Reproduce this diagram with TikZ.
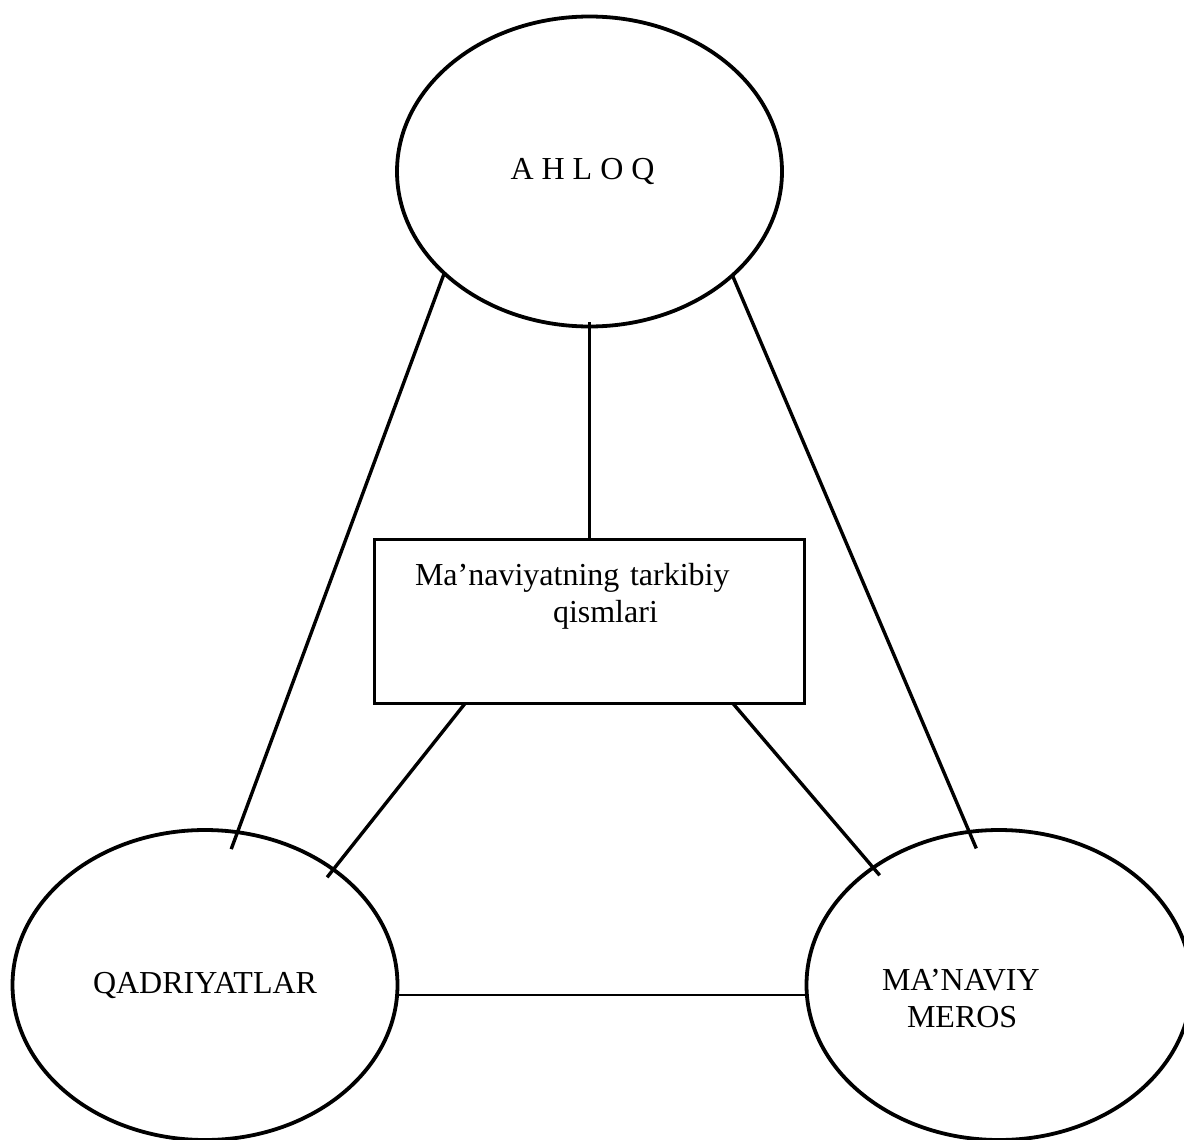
\documentclass[tikz,border=0pt]{standalone}
\usepackage{fontspec}
\setmainfont{Liberation Serif}
\usetikzlibrary{shapes.geometric}
\begin{document}
\begin{tikzpicture}[x=0.5pt,y=0.5pt]
\tikzset{
  every node/.style={font=\fontsize{16}{18.5}\selectfont, outer sep=0pt},
  oval/.style={draw, ellipse, line width=1.9pt, inner sep=0pt,
    minimum width=192.5pt, minimum height=155pt},
  partbox/.style={draw, rectangle, line width=1.9pt, inner xsep=20.25pt,
    inner ysep=0pt, text width=174.5pt, align=left,
    text height=22.75pt, text depth=59.25pt},
  link/.style={line width=1.7pt},
  flatlink/.style={line width=1.1pt}
}
\useasboundingbox (0,0) rectangle (1184,-1140);
\node [oval] (ahloq) at (589.5,-171.5) {A H L O Q\hspace*{7pt}};
\node [oval] (qadr) at (205,-985) {QADRIYATLAR};
\node [oval, text width=120pt, align=left, text height=25pt, text depth=20pt]
  (meros) at (999,-985) {\hspace*{1.5pt}MA’NAVIY\\\hspace*{14pt}MEROS};
\node [partbox] (parts) at (589.5,-621.5) {Ma’naviyatning tarkibiy\\\hspace*{69pt}qismlari};
\draw [link, shorten <=-2.25pt] (ahloq.south) -- (parts.north);
\draw [link, shorten >=-9pt] (ahloq.215.6) -- (qadr.78.9);
\draw [link, shorten >=-9pt] (ahloq.324.6) -- (meros.101.8);
\draw [link, shorten >=-5pt] ([xshift=45.25pt]parts.south west) -- (qadr.42.4);
\draw [link, shorten >=-5pt] ([xshift=-35.75pt]parts.south east) -- (meros.137.6);
\draw [flatlink] (qadr.-3.6) -- (meros.183.6);
\end{tikzpicture}
\end{document}
